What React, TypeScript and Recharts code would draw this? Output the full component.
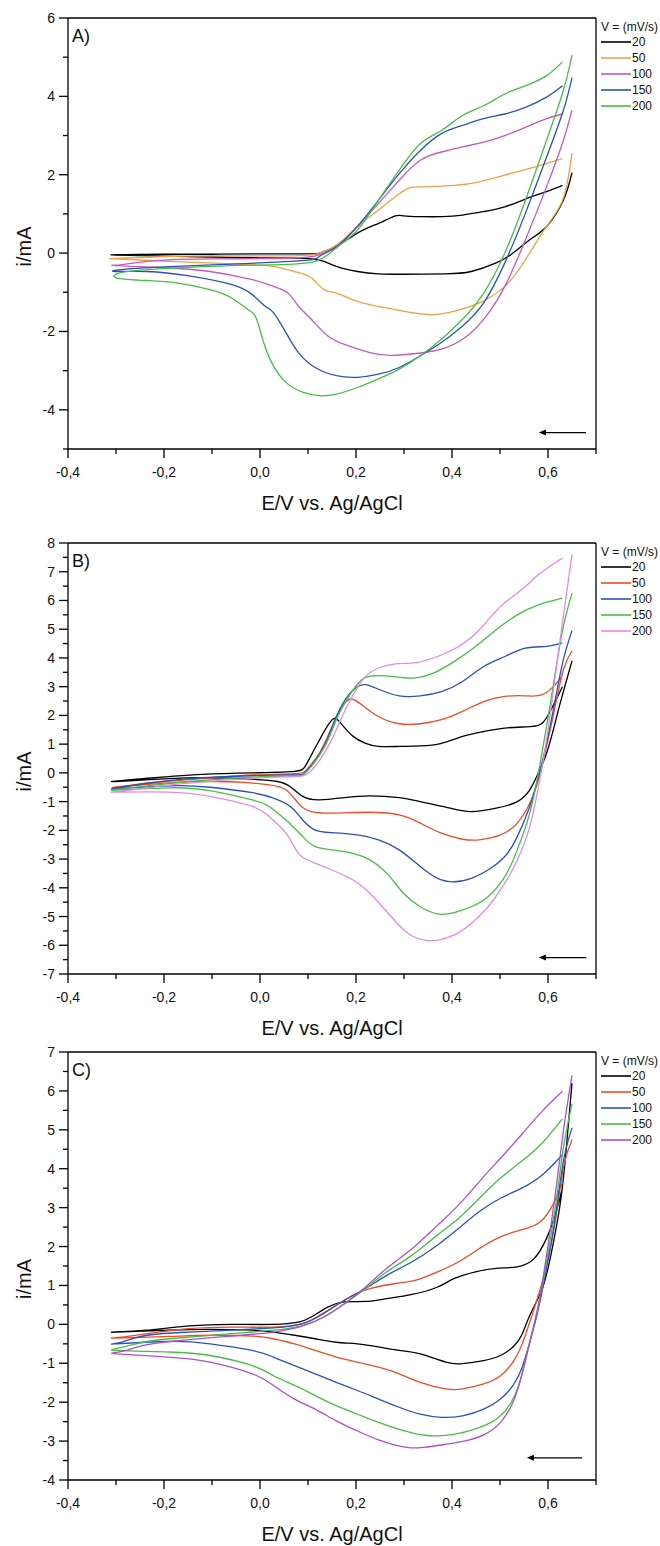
import { Line, LineChart, ReferenceLine, XAxis, YAxis } from 'recharts'

type Pt = [number, number]

const FONT = '"Liberation Sans", Arial, Helvetica, sans-serif'
const CHART_W = 660
const CHART_H = 530
const AXIS_H = 30
const Y_AXIS_W = 68
const RIGHT_GAP = 64

const scanRates = ['20', '50', '100', '150', '200']

const xTicks = [-0.4, -0.3, -0.2, -0.1, 0, 0.1, 0.2, 0.3, 0.4, 0.5, 0.6, 0.7]
const yTicksA = [-5, -4, -3, -2, -1, 0, 1, 2, 3, 4, 5, 6]
const yTicksB = [
  -7, -6.5, -6, -5.5, -5, -4.5, -4, -3.5, -3, -2.5, -2, -1.5, -1, -0.5, 0, 0.5, 1, 1.5, 2, 2.5,
  3, 3.5, 4, 4.5, 5, 5.5, 6, 6.5, 7, 7.5, 8,
]
const yTicksC = [
  -4, -3.5, -3, -2.5, -2, -1.5, -1, -0.5, 0, 0.5, 1, 1.5, 2, 2.5, 3, 3.5, 4, 4.5, 5, 5.5, 6, 6.5, 7,
]

const colorsA = ['#000000', '#f2a040', '#c458c4', '#2a50c0', '#44c044']
const colorsB = ['#000000', '#f04a28', '#2a50c0', '#44c044', '#e38ae3']
const colorsC = ['#000000', '#f04a28', '#2a50c8', '#44c044', '#b04ed0']

// each scan: starts at +0.65 V, sweeps negative to -0.3 V, returns to +0.63 V
const a20: Pt[] = [
  [0.65, 2.05], [0.632, 1.35], [0.597, 0.68], [0.562, 0.34], [0.527, 0], [0.492, -0.25], [0.44, -0.47],
  [0.387, -0.53], [0.3, -0.54], [0.247, -0.53], [0.203, -0.47], [0.159, -0.34], [0.133, -0.21],
  [0.107, -0.15], [0.072, -0.13], [0, -0.12], [-0.1, -0.1], [-0.2, -0.08], [-0.3, -0.05],
  [-0.29, -0.04], [-0.2, -0.03], [-0.1, -0.03], [0, -0.02], [0.1, -0.02], [0.124, 0], [0.159, 0.17],
  [0.203, 0.51], [0.247, 0.76], [0.282, 0.95], [0.3, 0.95], [0.334, 0.93], [0.38, 0.93], [0.422, 0.97],
  [0.466, 1.06], [0.51, 1.18], [0.553, 1.38], [0.597, 1.57], [0.63, 1.73],
]
const a50: Pt[] = [
  [0.65, 2.55], [0.632, 1.4], [0.597, 0.68], [0.553, -0.17], [0.51, -0.85], [0.457, -1.27], [0.405, -1.48],
  [0.361, -1.57], [0.317, -1.52], [0.264, -1.4], [0.203, -1.23], [0.159, -1.02], [0.133, -0.93],
  [0.107, -0.63], [0.072, -0.47], [0.028, -0.34], [-0.016, -0.3], [-0.104, -0.25], [-0.191, -0.21],
  [-0.3, -0.15], [-0.29, -0.13], [-0.2, -0.09], [-0.1, -0.07], [0.07, -0.07], [0.124, 0], [0.16, 0.21],
  [0.203, 0.68], [0.247, 1.1], [0.282, 1.44], [0.308, 1.65], [0.334, 1.69], [0.405, 1.73], [0.457, 1.82],
  [0.51, 1.99], [0.562, 2.16], [0.63, 2.41],
]
const a100: Pt[] = [
  [0.65, 3.65], [0.632, 2.88], [0.597, 1.69], [0.553, 0.34], [0.51, -0.85], [0.466, -1.69], [0.422, -2.2],
  [0.378, -2.45], [0.334, -2.55], [0.273, -2.61], [0.229, -2.54], [0.185, -2.37], [0.142, -2.12],
  [0.107, -1.69], [0.08, -1.35], [0.058, -1.02], [0.028, -0.85], [-0.016, -0.68], [-0.104, -0.47],
  [-0.191, -0.38], [-0.3, -0.32], [-0.29, -0.3], [-0.235, -0.21], [-0.104, -0.15], [0.07, -0.13],
  [0.124, -0.04], [0.16, 0.17], [0.203, 0.68], [0.247, 1.27], [0.29, 1.86], [0.334, 2.37], [0.378, 2.58],
  [0.422, 2.71], [0.466, 2.83], [0.51, 3.0], [0.553, 3.21], [0.597, 3.43], [0.63, 3.55],
]
const a150: Pt[] = [
  [0.65, 4.47], [0.632, 3.64], [0.597, 2.45], [0.553, 1.02], [0.51, -0.25], [0.466, -1.27], [0.422, -1.86],
  [0.378, -2.28], [0.334, -2.62], [0.29, -2.92], [0.247, -3.09], [0.203, -3.17], [0.159, -3.13],
  [0.115, -2.92], [0.08, -2.54], [0.054, -2.03], [0.028, -1.52], [0.01, -1.35], [-0.016, -1.06],
  [-0.06, -0.8], [-0.148, -0.58], [-0.235, -0.47], [-0.3, -0.47], [-0.29, -0.42], [-0.2, -0.35],
  [-0.1, -0.3], [0, -0.25], [0.1, -0.18], [0.124, -0.08], [0.16, 0.17], [0.203, 0.68], [0.247, 1.35],
  [0.29, 2.03], [0.334, 2.62], [0.378, 3.05], [0.422, 3.26], [0.466, 3.43], [0.51, 3.55], [0.553, 3.72],
  [0.597, 3.98], [0.63, 4.27],
]
const a200: Pt[] = [
  [0.65, 5.05], [0.632, 4.15], [0.597, 2.88], [0.553, 1.35], [0.51, 0], [0.466, -1.02], [0.422, -1.69],
  [0.378, -2.2], [0.334, -2.62], [0.29, -2.96], [0.247, -3.21], [0.203, -3.43], [0.159, -3.6],
  [0.124, -3.64], [0.089, -3.55], [0.054, -3.3], [0.028, -2.88], [0.01, -2.37], [-0.007, -1.69],
  [-0.025, -1.44], [-0.06, -1.14], [-0.104, -0.93], [-0.174, -0.76], [-0.235, -0.7], [-0.3, -0.63],
  [-0.29, -0.5], [-0.235, -0.42], [-0.104, -0.34], [0.028, -0.3], [0.115, -0.21], [0.159, 0.13],
  [0.203, 0.59], [0.247, 1.35], [0.29, 2.12], [0.334, 2.79], [0.378, 3.13], [0.422, 3.51], [0.466, 3.76],
  [0.51, 4.06], [0.553, 4.27], [0.597, 4.53], [0.63, 4.88],
]

const b20: Pt[] = [
  [0.65, 3.9], [0.64, 3.3], [0.625, 2.4], [0.615, 1.75], [0.597, 0.68], [0.58, 0], [0.562, -0.59],
  [0.536, -1.0], [0.492, -1.23], [0.44, -1.35], [0.396, -1.23], [0.334, -1.0], [0.29, -0.86],
  [0.229, -0.8], [0.176, -0.86], [0.124, -0.94], [0.089, -0.82], [0.063, -0.48], [0.036, -0.3],
  [-0.016, -0.22], [-0.104, -0.17], [-0.19, -0.2], [-0.3, -0.3], [-0.28, -0.25], [-0.19, -0.13],
  [-0.12, -0.05], [-0.016, 0], [0.072, 0.05], [0.098, 0.34], [0.124, 1.15], [0.142, 1.67], [0.155, 1.9],
  [0.168, 1.73], [0.194, 1.27], [0.22, 1.03], [0.247, 0.92], [0.29, 0.92], [0.334, 0.94], [0.378, 1.03],
  [0.422, 1.27], [0.466, 1.44], [0.51, 1.56], [0.562, 1.61], [0.588, 1.73], [0.606, 2.19], [0.63, 3.0],
]
const b50: Pt[] = [
  [0.65, 4.25], [0.632, 3.59], [0.615, 2.31], [0.597, 0.92], [0.58, -0.24], [0.562, -1.06], [0.536, -1.75],
  [0.501, -2.16], [0.457, -2.33], [0.422, -2.31], [0.378, -2.1], [0.334, -1.75], [0.29, -1.46],
  [0.229, -1.37], [0.159, -1.4], [0.107, -1.35], [0.08, -1.06], [0.054, -0.59], [0.019, -0.42],
  [-0.034, -0.33], [-0.104, -0.3], [-0.19, -0.35], [-0.3, -0.5], [-0.28, -0.45], [-0.2, -0.3],
  [-0.1, -0.17], [-0.016, -0.07], [0.072, -0.03], [0.098, 0.13], [0.124, 0.69], [0.15, 1.61],
  [0.172, 2.33], [0.19, 2.57], [0.212, 2.37], [0.247, 1.96], [0.29, 1.71], [0.334, 1.71], [0.378, 1.85],
  [0.422, 2.14], [0.466, 2.48], [0.51, 2.66], [0.553, 2.68], [0.588, 2.72], [0.615, 3.07], [0.63, 3.39],
]
const b100: Pt[] = [
  [0.65, 4.95], [0.632, 3.94], [0.615, 2.54], [0.597, 1.03], [0.58, -0.13], [0.562, -1.17], [0.536, -2.22],
  [0.51, -2.91], [0.475, -3.38], [0.44, -3.67], [0.405, -3.79], [0.37, -3.67], [0.334, -3.26],
  [0.29, -2.68], [0.247, -2.33], [0.203, -2.16], [0.15, -2.08], [0.115, -1.99], [0.089, -1.64],
  [0.063, -1.17], [0.028, -0.88], [-0.016, -0.69], [-0.104, -0.5], [-0.19, -0.45], [-0.3, -0.55],
  [-0.29, -0.5], [-0.235, -0.36], [-0.148, -0.2], [-0.016, -0.1], [0.072, -0.07], [0.098, 0.08],
  [0.133, 0.92], [0.159, 1.96], [0.185, 2.72], [0.203, 3.0], [0.22, 3.07], [0.247, 2.91], [0.29, 2.68],
  [0.334, 2.68], [0.378, 2.83], [0.422, 3.18], [0.466, 3.7], [0.51, 4.05], [0.553, 4.34], [0.597, 4.4],
  [0.63, 4.52],
]
const b150: Pt[] = [
  [0.65, 6.25], [0.632, 5.1], [0.615, 3.47], [0.597, 1.61], [0.58, 0], [0.562, -1.4], [0.536, -2.68],
  [0.51, -3.61], [0.475, -4.31], [0.44, -4.66], [0.405, -4.86], [0.37, -4.91], [0.334, -4.66],
  [0.299, -4.19], [0.264, -3.49], [0.229, -3.03], [0.194, -2.8], [0.15, -2.68], [0.115, -2.57],
  [0.089, -2.22], [0.054, -1.64], [0.019, -1.17], [-0.016, -0.94], [-0.104, -0.62], [-0.19, -0.52],
  [-0.3, -0.6], [-0.29, -0.56], [-0.235, -0.45], [-0.148, -0.3], [-0.016, -0.15], [0.072, -0.1],
  [0.098, 0.05], [0.133, 0.86], [0.159, 1.85], [0.185, 2.66], [0.212, 3.24], [0.238, 3.38], [0.273, 3.36],
  [0.317, 3.3], [0.361, 3.47], [0.405, 3.88], [0.449, 4.4], [0.492, 4.98], [0.536, 5.5], [0.58, 5.85],
  [0.63, 6.08],
]
const b200: Pt[] = [
  [0.65, 7.6], [0.632, 5.45], [0.615, 3.36], [0.597, 1.15], [0.58, -0.48], [0.562, -1.87], [0.536, -3.03],
  [0.51, -3.84], [0.475, -4.66], [0.44, -5.24], [0.405, -5.64], [0.37, -5.82], [0.343, -5.82],
  [0.308, -5.58], [0.273, -5.0], [0.229, -4.19], [0.194, -3.73], [0.15, -3.38], [0.107, -3.09],
  [0.08, -2.8], [0.054, -2.1], [0.019, -1.52], [-0.016, -1.17], [-0.104, -0.82], [-0.19, -0.67],
  [-0.3, -0.67], [-0.29, -0.64], [-0.235, -0.52], [-0.148, -0.36], [-0.016, -0.19], [0.072, -0.13],
  [0.107, 0.08], [0.142, 0.92], [0.168, 1.85], [0.194, 2.72], [0.22, 3.36], [0.247, 3.65], [0.282, 3.79],
  [0.325, 3.84], [0.37, 4.05], [0.414, 4.4], [0.457, 4.98], [0.501, 5.79], [0.545, 6.37], [0.58, 6.9],
  [0.63, 7.48],
]

const c20: Pt[] = [
  [0.65, 6.2], [0.637, 4.36], [0.624, 2.98], [0.606, 1.78], [0.588, 0.92], [0.562, 0.23], [0.545, -0.28],
  [0.527, -0.58], [0.501, -0.8], [0.466, -0.93], [0.422, -1.01], [0.387, -0.97], [0.334, -0.76],
  [0.29, -0.67], [0.247, -0.58], [0.203, -0.5], [0.159, -0.46], [0.115, -0.37], [0.072, -0.28],
  [0.028, -0.2], [-0.016, -0.15], [-0.104, -0.13], [-0.19, -0.15], [-0.3, -0.2], [-0.29, -0.19],
  [-0.235, -0.15], [-0.148, -0.04], [-0.06, 0], [0.028, 0], [0.08, 0.06], [0.107, 0.19], [0.142, 0.45],
  [0.176, 0.58], [0.22, 0.59], [0.264, 0.66], [0.317, 0.77], [0.37, 0.96], [0.405, 1.18], [0.449, 1.35],
  [0.492, 1.44], [0.536, 1.48], [0.571, 1.69], [0.597, 2.21], [0.615, 2.81], [0.63, 3.5],
]
const c50: Pt[] = [
  [0.65, 4.75], [0.632, 4.02], [0.615, 2.64], [0.597, 1.52], [0.58, 0.75], [0.562, 0.06], [0.545, -0.54],
  [0.527, -0.97], [0.501, -1.32], [0.466, -1.53], [0.422, -1.66], [0.387, -1.66], [0.334, -1.49],
  [0.29, -1.27], [0.247, -1.1], [0.203, -0.97], [0.159, -0.84], [0.115, -0.67], [0.072, -0.5],
  [0.028, -0.37], [-0.016, -0.3], [-0.104, -0.28], [-0.19, -0.31], [-0.3, -0.35], [-0.29, -0.33],
  [-0.235, -0.24], [-0.148, -0.11], [-0.06, -0.07], [0.028, -0.07], [0.089, 0.02], [0.124, 0.23],
  [0.159, 0.49], [0.194, 0.75], [0.229, 0.92], [0.282, 1.05], [0.325, 1.14], [0.37, 1.35], [0.414, 1.61],
  [0.457, 1.95], [0.501, 2.25], [0.545, 2.43], [0.58, 2.6], [0.606, 2.98], [0.63, 3.63],
]
const c100: Pt[] = [
  [0.65, 5.05], [0.632, 4.19], [0.615, 2.73], [0.597, 1.44], [0.58, 0.4], [0.562, -0.46], [0.545, -1.14],
  [0.527, -1.57], [0.501, -1.92], [0.466, -2.18], [0.422, -2.35], [0.378, -2.39], [0.334, -2.31],
  [0.29, -2.13], [0.247, -1.92], [0.203, -1.7], [0.159, -1.49], [0.115, -1.27], [0.072, -1.06],
  [0.028, -0.84], [-0.016, -0.67], [-0.104, -0.5], [-0.19, -0.44], [-0.3, -0.5], [-0.29, -0.46],
  [-0.235, -0.28], [-0.148, -0.2], [-0.06, -0.15], [0.028, -0.09], [0.089, 0.02], [0.133, 0.28],
  [0.176, 0.62], [0.22, 0.92], [0.264, 1.26], [0.317, 1.61], [0.37, 2.04], [0.414, 2.47], [0.457, 2.9],
  [0.501, 3.24], [0.545, 3.5], [0.588, 3.84], [0.63, 4.36],
]
const c150: Pt[] = [
  [0.65, 5.67], [0.632, 4.53], [0.615, 2.98], [0.597, 1.61], [0.58, 0.49], [0.562, -0.46], [0.545, -1.32],
  [0.527, -1.92], [0.501, -2.35], [0.466, -2.61], [0.422, -2.78], [0.378, -2.86], [0.343, -2.85],
  [0.299, -2.73], [0.247, -2.52], [0.203, -2.31], [0.159, -2.09], [0.115, -1.83], [0.072, -1.57],
  [0.028, -1.32], [-0.016, -1.06], [-0.104, -0.8], [-0.19, -0.71], [-0.3, -0.67], [-0.29, -0.6],
  [-0.235, -0.44], [-0.148, -0.33], [-0.06, -0.24], [0.028, -0.15], [0.089, -0.03], [0.133, 0.19],
  [0.176, 0.53], [0.22, 0.92], [0.264, 1.35], [0.317, 1.78], [0.37, 2.3], [0.414, 2.73], [0.457, 3.24],
  [0.501, 3.76], [0.545, 4.19], [0.588, 4.66], [0.63, 5.28],
]
const c200: Pt[] = [
  [0.65, 6.4], [0.632, 4.96], [0.615, 3.33], [0.597, 1.78], [0.58, 0.49], [0.562, -0.46], [0.545, -1.32],
  [0.527, -2.0], [0.501, -2.52], [0.466, -2.84], [0.422, -3.01], [0.378, -3.1], [0.34, -3.16],
  [0.31, -3.17], [0.28, -3.1], [0.247, -2.97], [0.203, -2.74], [0.159, -2.48], [0.115, -2.18],
  [0.072, -1.92], [0.028, -1.57], [-0.016, -1.27], [-0.104, -0.97], [-0.19, -0.84], [-0.3, -0.76],
  [-0.29, -0.7], [-0.235, -0.52], [-0.148, -0.39], [-0.06, -0.3], [0.028, -0.2], [0.089, -0.04],
  [0.133, 0.19], [0.176, 0.53], [0.22, 0.96], [0.264, 1.44], [0.317, 1.95], [0.37, 2.55], [0.414, 3.07],
  [0.457, 3.67], [0.501, 4.27], [0.545, 4.88], [0.588, 5.48], [0.63, 5.99],
]

type Panel = {
  tag: string
  top: number
  plotTop: number
  plotH: number
  yDomain: [number, number]
  yTicks: number[]
  yMajorStep: number
  colors: string[]
  series: Pt[][]
  arrow: { tail: number; head: number; y: number }
}

const panels: Panel[] = [
  {
    tag: 'A',
    top: 0,
    plotTop: 18,
    plotH: 431,
    yDomain: [-5, 6],
    yTicks: yTicksA,
    yMajorStep: 2,
    colors: colorsA,
    series: [a20, a50, a100, a150, a200],
    arrow: { tail: 0.679, head: 0.581, y: -4.58 },
  },
  {
    tag: 'B',
    top: 525,
    plotTop: 18,
    plotH: 431,
    yDomain: [-7, 8],
    yTicks: yTicksB,
    yMajorStep: 1,
    colors: colorsB,
    series: [b20, b50, b100, b150, b200],
    arrow: { tail: 0.68, head: 0.581, y: -6.43 },
  },
  {
    tag: 'C',
    top: 1034,
    plotTop: 18,
    plotH: 428,
    yDomain: [-4, 7],
    yTicks: yTicksC,
    yMajorStep: 1,
    colors: colorsC,
    series: [c20, c50, c100, c150, c200],
    arrow: { tail: 0.671, head: 0.556, y: -3.43 },
  },
]

const formatE = (v: number) => v.toFixed(1).replace('.', ',')

// tick marks are drawn from the known axis line position so they sit flush on the frame
function XTick(props: any) {
  const { x, payload, axisY } = props
  const v = payload.value as number
  const major = Math.round(v * 10) % 2 === 0
  return (
    <g>
      <line x1={x} x2={x} y1={axisY} y2={axisY + (major ? 9 : 5)} stroke="#000" strokeWidth={1.3} />
      {major && (
        <text x={x} y={axisY + 28} textAnchor="middle" fontSize={14} fontFamily={FONT} fill="#111">
          {formatE(v)}
        </text>
      )}
    </g>
  )
}

function YTick(props: any) {
  const { y, payload, step, axisX } = props
  const v = payload.value as number
  const major = Math.abs(v / step - Math.round(v / step)) < 1e-6
  return (
    <g>
      <line x1={axisX} x2={axisX - (major ? 9 : 5)} y1={y} y2={y} stroke="#000" strokeWidth={1.3} />
      {major && (
        <text x={axisX - 13} y={y + 5} textAnchor="end" fontSize={14} fontFamily={FONT} fill="#111">
          {String(v)}
        </text>
      )}
    </g>
  )
}

function ArrowShape(props: any) {
  const { x1, y1, x2, y2 } = props
  return (
    <g>
      <line x1={x1} y1={y1} x2={x2 + 4} y2={y2} stroke="#000" strokeWidth={1.2} />
      <polygon points={`${x2},${y2} ${x2 + 7},${y2 - 3} ${x2 + 7},${y2 + 3}`} fill="#000" />
    </g>
  )
}

function CvPanel({ panel }: { panel: Panel }) {
  const { plotTop, plotH } = panel
  const bottomMargin = CHART_H - plotTop - plotH - AXIS_H
  const plotCenterX = (Y_AXIS_W + CHART_W - RIGHT_GAP) / 2
  const yTitleX = 31
  const yTitleY = plotTop + plotH / 2 + 13

  return (
    <div style={{ position: 'absolute', left: 0, top: panel.top, width: CHART_W, height: CHART_H }}>
      <LineChart
        width={CHART_W}
        height={CHART_H}
        margin={{ top: plotTop, right: RIGHT_GAP, bottom: bottomMargin, left: 0 }}
        style={{ fontFamily: FONT }}
      >
        <XAxis
          type="number"
          dataKey="x"
          domain={[-0.4, 0.7]}
          ticks={xTicks}
          interval={0}
          allowDataOverflow
          height={AXIS_H}
          tickLine={false}
          tickSize={0}
          tickMargin={0}
          tick={<XTick axisY={plotTop + plotH} />}
          axisLine={{ stroke: '#000', strokeWidth: 1.3 }}
        />
        <YAxis
          type="number"
          dataKey="y"
          domain={panel.yDomain}
          ticks={panel.yTicks}
          interval={0}
          allowDataOverflow
          width={Y_AXIS_W}
          tickLine={false}
          tickSize={0}
          tickMargin={0}
          tick={<YTick step={panel.yMajorStep} axisX={Y_AXIS_W} />}
          axisLine={{ stroke: '#000', strokeWidth: 1.3 }}
        />
        <ReferenceLine y={panel.yDomain[1]} stroke="#000" strokeWidth={1.3} ifOverflow="visible" />
        <ReferenceLine x={0.7} stroke="#000" strokeWidth={1.3} ifOverflow="visible" />
        {panel.series.map((pts, i) => (
          <Line
            key={scanRates[i]}
            data={pts.map(([x, y]) => ({ x, y }))}
            dataKey="y"
            type="natural"
            stroke={panel.colors[i]}
            strokeWidth={1.3}
            dot={false}
            activeDot={false}
            isAnimationActive={false}
          />
        ))}
        <ReferenceLine
          segment={[
            { x: panel.arrow.tail, y: panel.arrow.y },
            { x: panel.arrow.head, y: panel.arrow.y },
          ]}
          ifOverflow="visible"
          shape={<ArrowShape />}
        />
      </LineChart>

      <svg
        width={CHART_W}
        height={CHART_H}
        style={{ position: 'absolute', left: 0, top: 0, pointerEvents: 'none', fontFamily: FONT }}
      >
        <text x={72} y={plotTop + 24} fontSize={18} fill="#111">
          {panel.tag})
        </text>
        <text x={601} y={plotTop + 13} fontSize={12} fill="#111">
          V = (mV/s)
        </text>
        {scanRates.map((rate, i) => (
          <g key={rate}>
            <line
              x1={601}
              x2={631}
              y1={plotTop + 24 + 16 * i}
              y2={plotTop + 24 + 16 * i}
              stroke={panel.colors[i]}
              strokeWidth={1.6}
            />
            <text x={632} y={plotTop + 28 + 16 * i} fontSize={12} fill="#111">
              {rate}
            </text>
          </g>
        ))}
        <text x={plotCenterX} y={plotTop + plotH + 61} textAnchor="middle" fontSize={20} fill="#111">
          E/V vs. Ag/AgCl
        </text>
        <text
          x={yTitleX}
          y={yTitleY}
          textAnchor="middle"
          fontSize={20}
          fill="#111"
          transform={`rotate(-90 ${yTitleX} ${yTitleY})`}
        >
          i/mA
        </text>
      </svg>
    </div>
  )
}

export default function App() {
  return (
    <div
      style={{
        position: 'absolute',
        left: 0,
        top: 0,
        width: 660,
        height: 1546,
        overflow: 'hidden',
        background: '#fff',
      }}
    >
      {panels.map((p) => (
        <CvPanel key={p.tag} panel={p} />
      ))}
    </div>
  )
}
